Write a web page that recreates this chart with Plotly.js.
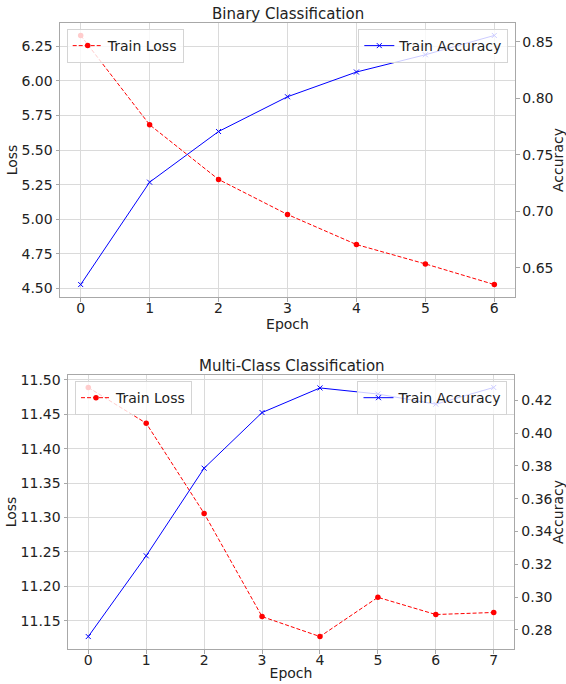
<!DOCTYPE html>
<html>
<head>
<meta charset="utf-8">
<script src="https://cdn.plot.ly/plotly-3.0.1.min.js"></script>
<style>html,body{margin:0;padding:0;background:#fff;}#chart{width:566px;height:684px;}</style>
</head>
<body>
<div id="chart"></div>
<script>
// ---- data ----
const epochsBinary = [0, 1, 2, 3, 4, 5, 6];
const lossBinary = [6.328, 5.683, 5.288, 5.035, 4.818, 4.678, 4.529];
const accBinary = [0.635, 0.7257, 0.7706, 0.8014, 0.8233, 0.8386, 0.8557];

const epochsMulti = [0, 1, 2, 3, 4, 5, 6, 7];
const lossMulti = [11.489, 11.437, 11.306, 11.156, 11.127, 11.184, 11.159, 11.162];
const accMulti = [0.276, 0.3252, 0.3786, 0.4125, 0.4275, 0.4238, 0.4176, 0.4278];

const titleBinary = "Binary Classification";
const titleMulti = "Multi-Class Classification";
const lossName = "Train Loss";
const accName = "Train Accuracy";

// ---- helpers ----
function padRange(arr, frac) {
  const mn = Math.min(...arr), mx = Math.max(...arr);
  const d = (mx - mn) * frac;
  return [mn - d, mx + d];
}

const FONT = "DejaVu Sans";
const FS = 14;
const TXT = "#222222";
const SPINE = "#a8a8a8";
const GRID = "#dadada";

const lossStyle = {
  mode: "lines+markers",
  line: {color: "#ff0000", width: 1, dash: "4px,2px"},
  marker: {color: "#ff0000", size: 5.5, symbol: "circle"}
};
const accStyle = {
  mode: "lines+markers",
  line: {color: "#0000ff", width: 1},
  marker: {color: "#0000ff", size: 5, symbol: "x-thin", line: {color: "#0000ff", width: 1}}
};

const traces = [
  Object.assign({x: epochsBinary, y: lossBinary, name: lossName, xaxis: "x", yaxis: "y", legend: "legend"}, lossStyle),
  Object.assign({x: epochsBinary, y: accBinary, name: accName, xaxis: "x", yaxis: "y2", legend: "legend2"}, accStyle),
  Object.assign({x: epochsMulti, y: lossMulti, name: lossName, xaxis: "x2", yaxis: "y3", legend: "legend3"}, lossStyle),
  Object.assign({x: epochsMulti, y: accMulti, name: accName, xaxis: "x2", yaxis: "y4", legend: "legend4"}, accStyle)
];

function xAxis(domain, anchor, xs) {
  return {
    domain: domain, anchor: anchor,
    range: padRange(xs, 0.05), dtick: 1, tick0: 0,
    showgrid: true, gridcolor: GRID, gridwidth: 1, zeroline: false,
    showline: true, linecolor: SPINE, linewidth: 1, mirror: true,
    ticks: "outside", ticklen: 3.5, tickcolor: SPINE, tickwidth: 1,
    ticklabelstandoff: -5,
    tickfont: {family: FONT, size: FS, color: TXT},
    title: {text: "Epoch", font: {family: FONT, size: FS, color: TXT}, standoff: 0},
    automargin: false
  };
}
function yLeft(domain, anchor, ys, dtick) {
  return {
    domain: domain, anchor: anchor,
    range: padRange(ys, 0.05), dtick: dtick, tick0: 0, tickformat: ".2f",
    showgrid: true, gridcolor: GRID, gridwidth: 1, zeroline: false,
    showline: true, linecolor: SPINE, linewidth: 1, mirror: true,
    ticks: "outside", ticklen: 3.5, tickcolor: SPINE, tickwidth: 1,
    tickfont: {family: FONT, size: FS, color: TXT},
    title: {text: "Loss", font: {family: FONT, size: FS, color: TXT}, standoff: 0},
    automargin: false
  };
}
function yRight(overlay, anchor, ys, dtick) {
  return {
    overlaying: overlay, anchor: anchor, side: "right",
    range: padRange(ys, 0.05), dtick: dtick, tick0: 0, tickformat: ".2f",
    showgrid: false, zeroline: false,
    showline: true, linecolor: SPINE, linewidth: 1,
    ticks: "outside", ticklen: 3.5, tickcolor: SPINE, tickwidth: 1,
    tickfont: {family: FONT, size: FS, color: TXT},
    title: {text: "Accuracy", font: {family: FONT, size: FS, color: TXT}, standoff: 0},
    automargin: false
  };
}

function legendAt(x, y, xanchor) {
  return {
    x: x, y: y, xanchor: xanchor, yanchor: "top",
    bgcolor: "rgba(255,255,255,0.8)", bordercolor: "#d4d4d4", borderwidth: 1,
    font: {family: FONT, size: FS, color: TXT},
    itemwidth: 30
  };
}

const topDom = [0.5623, 1];
const botDom = [0, 0.4377];

const layout = {
  width: 566, height: 684,
  margin: {l: 60, r: 51, t: 23, b: 35, pad: 0},
  paper_bgcolor: "#ffffff", plot_bgcolor: "#ffffff",
  font: {family: FONT, size: FS, color: TXT},
  showlegend: true,
  xaxis: xAxis([0, 1], "y", epochsBinary),
  yaxis: yLeft(topDom, "x", lossBinary, 0.25),
  yaxis2: yRight("y", "x", accBinary, 0.05),
  xaxis2: xAxis([0.0176, 0.9978], "y3", epochsMulti),
  yaxis3: yLeft(botDom, "x2", lossMulti, 0.05),
  yaxis4: yRight("y3", "x2", accMulti, 0.02),
  legend: legendAt(0.0147, 0.9904, "left"),
  legend2: legendAt(0.9853, 0.9904, "right"),
  legend3: legendAt(0.033, 0.428, "left"),
  legend4: legendAt(0.9835, 0.428, "right"),
  annotations: [
    {text: titleBinary, xref: "paper", yref: "paper", x: 0.5, y: 1.0144, xanchor: "center", yanchor: "middle",
     showarrow: false, font: {family: FONT, size: 15, color: TXT}},
    {text: titleMulti, xref: "paper", yref: "paper", x: 0.5088, y: 0.452, xanchor: "center", yanchor: "middle",
     showarrow: false, font: {family: FONT, size: 15, color: TXT}}
  ]
};

Plotly.newPlot("chart", traces, layout, {displayModeBar: false, responsive: false});
</script>
</body>
</html>
